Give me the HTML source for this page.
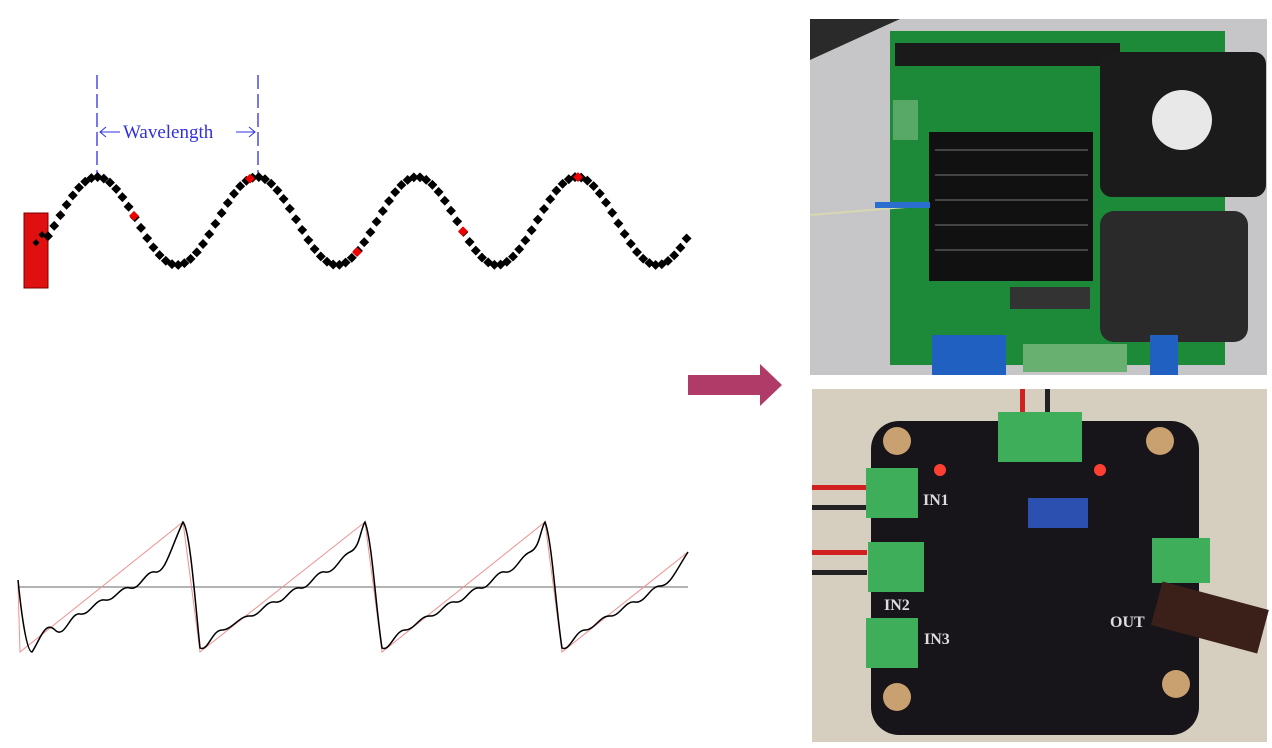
<!DOCTYPE html>
<html><head><meta charset="utf-8"><style>
html,body{margin:0;padding:0;background:#fff;width:1272px;height:748px;overflow:hidden}
svg{display:block}
</style></head><body>
<svg width="1272" height="748" xmlns="http://www.w3.org/2000/svg">
<rect x="24" y="213" width="24" height="75" fill="#e01010" stroke="#700" stroke-width="1"/>
<rect x="34" y="240" width="5" height="5" fill="#000" transform="rotate(45 36 242)"/>
<rect x="40" y="232" width="5" height="5" fill="#000" transform="rotate(45 42 234)"/>
<line x1="97" y1="75" x2="97" y2="178" stroke="#3030e0" stroke-width="1.3" stroke-dasharray="14,5"/>
<line x1="258" y1="75" x2="258" y2="178" stroke="#3030e0" stroke-width="1.3" stroke-dasharray="14,5"/>
<line x1="100" y1="132" x2="255" y2="132" stroke="#3030e0" stroke-width="1" stroke-dasharray="0"/>
<rect x="120" y="120" width="116" height="24" fill="#fff"/>
<polyline points="106,127 100,132 106,137" fill="none" stroke="#3030e0" stroke-width="1"/>
<polyline points="249,127 255,132 249,137" fill="none" stroke="#3030e0" stroke-width="1"/>
<text x="123" y="138" font-family="Liberation Serif,serif" font-size="19" fill="#3030e0">Wavelength</text>
<g id="sine"></g>
<line x1="18" y1="587" x2="688" y2="587" stroke="#888" stroke-width="1.2"/>
<polyline fill="none" stroke="#f09090" stroke-width="1" points="18,585 20,652 183,522 200,652 365,522 382,652 545,522 562,652 688,552"/>
<path fill="none" stroke="#000" stroke-width="1.5" d="M18,580 C22,620 27,652 32,652 C40,640 45,620 55,630 S70,612 80,614 S95,598 105,600 S120,585 130,588 S145,570 155,572 S170,550 183,522 C190,530 195,600 200,648 C208,652 212,630 222,630 S240,615 250,616 S265,600 275,602 S290,586 300,588 S315,570 325,572 S340,556 350,552 S360,530 365,522 C372,540 376,610 382,648 C390,652 395,630 405,630 S420,615 430,616 S445,600 455,602 S470,586 480,588 S495,570 505,572 S520,556 530,552 S540,530 545,522 C552,540 556,610 562,648 C570,652 575,630 585,630 S600,615 610,616 S625,600 635,602 S650,586 660,586 S675,572 688,552"/>
<polygon points="688,375 760,375 760,364 782,385 760,406 760,395 688,395" fill="#b03a68"/>
<rect x="810" y="19" width="457" height="356" fill="#c6c6c8"/>
<polygon points="810,19 900,19 810,60" fill="#2a2a2a"/>
<rect x="890" y="31" width="335" height="334" fill="#1d8a3a"/>
<rect x="895" y="43" width="225" height="23" fill="#1a1a1a"/>
<rect x="929" y="132" width="164" height="149" fill="#111"/>
<g stroke="#444" stroke-width="2"><line x1="935" y1="150" x2="1088" y2="150"/><line x1="935" y1="175" x2="1088" y2="175"/><line x1="935" y1="200" x2="1088" y2="200"/><line x1="935" y1="225" x2="1088" y2="225"/><line x1="935" y1="250" x2="1088" y2="250"/></g>
<rect x="1100" y="52" width="166" height="145" rx="12" fill="#1b1b1b"/>
<circle cx="1182" cy="120" r="30" fill="#e8e8e8"/>
<rect x="1100" y="211" width="148" height="131" rx="14" fill="#2a2a2a"/>
<rect x="1010" y="287" width="80" height="22" fill="#333"/>
<rect x="932" y="335" width="74" height="40" fill="#2060c0"/>
<rect x="1150" y="335" width="28" height="40" fill="#2060c0"/>
<rect x="1023" y="344" width="104" height="28" fill="#68b070"/>
<rect x="893" y="100" width="25" height="40" fill="#58a868"/>
<line x1="810" y1="215" x2="930" y2="205" stroke="#d8d8b0" stroke-width="2"/>
<line x1="875" y1="205" x2="930" y2="205" stroke="#2a6fd0" stroke-width="6"/>
<rect x="812" y="389" width="455" height="353" fill="#d6cfc0"/>
<rect x="871" y="421" width="328" height="314" rx="28" fill="#17141a"/>
<rect x="1020" y="389" width="5" height="30" fill="#d02020"/><rect x="1045" y="389" width="5" height="30" fill="#222"/>
<rect x="998" y="412" width="84" height="50" fill="#3fae5a"/>
<rect x="812" y="485" width="55" height="5" fill="#d02020"/><rect x="812" y="505" width="55" height="5" fill="#222"/>
<rect x="812" y="550" width="55" height="5" fill="#d02020"/><rect x="812" y="570" width="55" height="5" fill="#222"/>
<rect x="866" y="468" width="52" height="50" fill="#3fae5a"/>
<rect x="868" y="542" width="56" height="50" fill="#3fae5a"/>
<rect x="866" y="618" width="52" height="50" fill="#3fae5a"/>
<rect x="1152" y="538" width="58" height="45" fill="#3fae5a"/>
<rect x="1028" y="498" width="60" height="30" fill="#2c50b0"/>
<circle cx="897" cy="441" r="14" fill="#c9a070"/><circle cx="1160" cy="441" r="14" fill="#c9a070"/>
<circle cx="897" cy="697" r="14" fill="#c9a070"/><circle cx="1176" cy="684" r="14" fill="#c9a070"/>
<circle cx="940" cy="470" r="6" fill="#ff4030"/><circle cx="1100" cy="470" r="6" fill="#ff4030"/>
<rect x="1155" y="595" width="110" height="45" fill="#3a2018" transform="rotate(15 1210 617)"/>
<g font-family="Liberation Serif,serif" font-size="16" fill="#ddd" font-weight="bold">
<text x="923" y="505">IN1</text><text x="884" y="610">IN2</text><text x="924" y="644">IN3</text><text x="1110" y="627">OUT</text></g>
</svg>
<script>
var g=document.getElementById('sine'),s='';
var red=[134,250,357,463,578];
for(var x=48;x<=688;x+=6.2){var y=221-44*Math.sin((x-57)/160*2*Math.PI);
s+='<rect x="'+(x-3.5)+'" y="'+(y-3.5)+'" width="7" height="7" fill="#000" transform="rotate(45 '+x+' '+y+')"/>';}
red.forEach(function(x){var y=221-44*Math.sin((x-57)/160*2*Math.PI);s+='<rect x="'+(x-3.5)+'" y="'+(y-3.5)+'" width="7" height="7" fill="#e00" transform="rotate(45 '+x+' '+y+')"/>';});
g.innerHTML=s;
</script>
</body></html>
